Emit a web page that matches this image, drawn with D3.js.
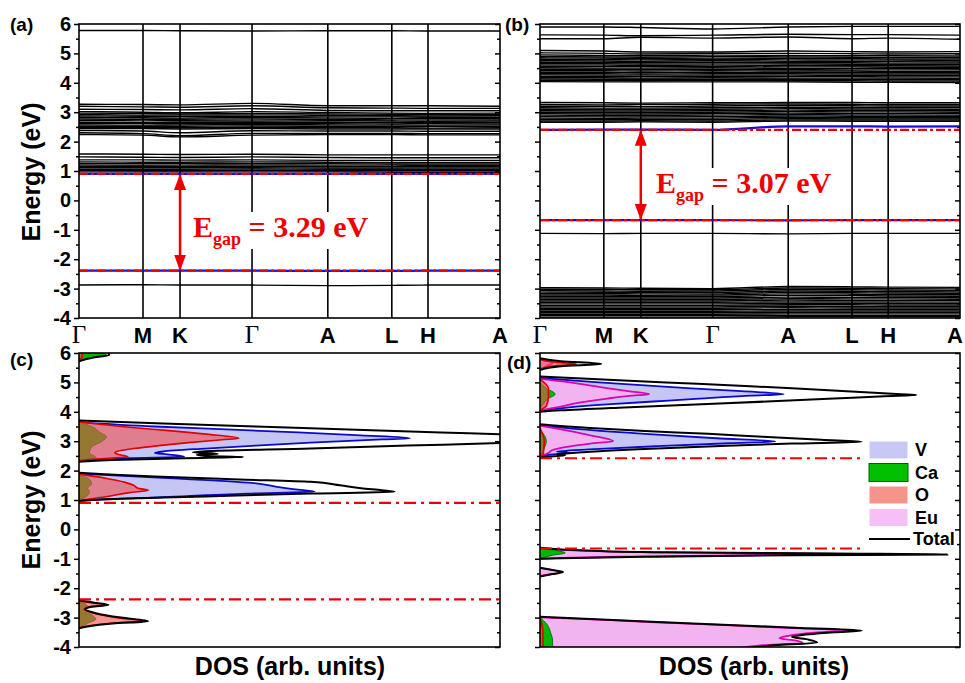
<!DOCTYPE html>
<html>
<head>
<meta charset="utf-8">
<script src="https://cdn.jsdelivr.net/npm/d3@7"></script>
<style>
  body { margin: 0; background: #fff; }
  text { font-family: "Liberation Sans", Arial, sans-serif; font-weight: bold; }
</style>
</head>
<body>
<svg id="fig" width="965" height="683"></svg>
<script>
// ---- data ----
const energyTicks = [6, 5, 4, 3, 2, 1, 0, -1, -2, -3, -4];
const energyMinor = [5.5, 4.5, 3.5, 2.5, 1.5, 0.5, -0.5, -1.5, -2.5, -3.5];
const kLabels = ["Γ", "M", "K", "Γ", "A", "L", "H", "A"];
const kPath = [0, 0.152, 0.240, 0.411, 0.591, 0.743, 0.829, 1.0];

// bands of panel (a), energy (eV) at each high-symmetry point
const bandsA = [
  [5.78, 5.78, 5.77, 5.76, 5.77, 5.77, 5.76, 5.76],
  [3.27, 3.26, 3.25, 3.30, 3.22, 3.22, 3.22, 3.20],
  [3.20, 3.18, 3.17, 3.22, 3.15, 3.14, 3.13, 3.13],
  [3.10, 3.09, 3.08, 3.12, 3.06, 3.05, 3.05, 3.05],
  [3.02, 3.00, 2.98, 3.02, 2.99, 2.97, 2.96, 2.97],
  [2.97, 2.95, 2.94, 2.96, 2.94, 2.93, 2.92, 2.92],
  [2.92, 2.90, 2.90, 2.91, 2.89, 2.88, 2.87, 2.88],
  [2.87, 2.86, 2.85, 2.86, 2.84, 2.84, 2.83, 2.83],
  [2.82, 2.81, 2.80, 2.82, 2.80, 2.79, 2.79, 2.78],
  [2.77, 2.76, 2.76, 2.77, 2.75, 2.74, 2.74, 2.74],
  [2.72, 2.73, 2.71, 2.70, 2.71, 2.70, 2.69, 2.70],
  [2.66, 2.66, 2.66, 2.66, 2.66, 2.65, 2.65, 2.65],
  [2.61, 2.62, 2.61, 2.62, 2.61, 2.60, 2.61, 2.60],
  [2.57, 2.56, 2.57, 2.58, 2.57, 2.56, 2.56, 2.56],
  [2.52, 2.52, 2.52, 2.53, 2.52, 2.51, 2.52, 2.51],
  [2.48, 2.47, 2.47, 2.48, 2.47, 2.47, 2.46, 2.47],
  [2.44, 2.44, 2.43, 2.44, 2.43, 2.43, 2.43, 2.43],
  [2.38, 2.36, 2.30, 2.37, 2.36, 2.36, 2.35, 2.35],
  [2.30, 2.27, 2.20, 2.28, 2.28, 2.28, 2.27, 2.27],
  [2.24, 2.22, 2.16, 2.22, 2.24, 2.24, 2.23, 2.23],
  [1.58, 1.57, 1.56, 1.57, 1.55, 1.55, 1.55, 1.55],
  [1.48, 1.47, 1.46, 1.48, 1.46, 1.45, 1.45, 1.45],
  [1.38, 1.38, 1.37, 1.38, 1.36, 1.36, 1.36, 1.36],
  [1.31, 1.30, 1.30, 1.31, 1.30, 1.29, 1.29, 1.29],
  [1.26, 1.25, 1.25, 1.26, 1.25, 1.24, 1.24, 1.24],
  [1.21, 1.20, 1.20, 1.21, 1.20, 1.20, 1.19, 1.19],
  [1.16, 1.16, 1.15, 1.16, 1.15, 1.15, 1.15, 1.15],
  [1.11, 1.11, 1.11, 1.11, 1.10, 1.10, 1.10, 1.10],
  [1.06, 1.06, 1.06, 1.07, 1.06, 1.06, 1.05, 1.05],
  [1.02, 1.01, 1.01, 1.02, 1.01, 1.01, 1.01, 1.01],
  [0.97, 0.97, 0.97, 0.97, 0.97, 0.96, 0.96, 0.96],
  [-2.88, -2.87, -2.88, -2.88, -2.90, -2.89, -2.88, -2.88]
];
const cbmBandA = [0.90, 0.90, 0.90, 0.90, 0.90, 0.90, 0.90, 0.90];
const vbmBandA = [-2.39, -2.39, -2.39, -2.39, -2.40, -2.40, -2.39, -2.39];

// bands of panel (b)
const bandsB = [
  [5.90, 5.90, 5.88, 5.83, 5.90, 5.92, 5.92, 5.92],
  [5.63, 5.62, 5.60, 5.62, 5.65, 5.64, 5.64, 5.62],
  [5.50, 5.50, 5.55, 5.52, 5.56, 5.50, 5.52, 5.48],
  [5.10, 5.08, 5.05, 5.05, 5.08, 5.06, 5.05, 5.06],
  [5.02, 5.00, 4.98, 5.00, 5.00, 4.99, 4.98, 4.99],
  [4.95, 4.93, 4.92, 4.94, 4.93, 4.92, 4.92, 4.91],
  [4.90, 4.88, 4.87, 4.89, 4.88, 4.87, 4.86, 4.86],
  [4.85, 4.84, 4.82, 4.84, 4.83, 4.82, 4.81, 4.81],
  [4.80, 4.79, 4.78, 4.79, 4.78, 4.77, 4.77, 4.76],
  [4.75, 4.74, 4.73, 4.75, 4.73, 4.72, 4.72, 4.71],
  [4.70, 4.69, 4.69, 4.70, 4.68, 4.68, 4.67, 4.67],
  [4.65, 4.65, 4.64, 4.65, 4.64, 4.63, 4.62, 4.62],
  [4.60, 4.60, 4.59, 4.60, 4.59, 4.58, 4.58, 4.57],
  [4.55, 4.55, 4.55, 4.55, 4.54, 4.54, 4.53, 4.53],
  [4.51, 4.50, 4.50, 4.51, 4.49, 4.49, 4.49, 4.48],
  [4.46, 4.46, 4.45, 4.46, 4.45, 4.44, 4.44, 4.44],
  [4.41, 4.41, 4.40, 4.41, 4.40, 4.40, 4.39, 4.39],
  [4.36, 4.36, 4.35, 4.36, 4.35, 4.35, 4.35, 4.34],
  [4.31, 4.31, 4.30, 4.31, 4.31, 4.30, 4.30, 4.30],
  [4.27, 4.26, 4.26, 4.26, 4.26, 4.25, 4.25, 4.25],
  [4.22, 4.22, 4.21, 4.22, 4.21, 4.21, 4.20, 4.20],
  [4.17, 4.17, 4.16, 4.17, 4.16, 4.16, 4.16, 4.15],
  [4.13, 4.12, 4.12, 4.12, 4.12, 4.11, 4.11, 4.11],
  [4.08, 4.08, 4.07, 4.08, 4.07, 4.07, 4.06, 4.06],
  [4.04, 4.03, 4.03, 4.03, 4.03, 4.02, 4.02, 4.01],
  [3.33, 3.32, 3.31, 3.32, 3.33, 3.33, 3.32, 3.32],
  [3.26, 3.25, 3.26, 3.27, 3.28, 3.27, 3.26, 3.26],
  [3.20, 3.20, 3.19, 3.21, 3.23, 3.22, 3.21, 3.21],
  [3.15, 3.14, 3.14, 3.15, 3.17, 3.16, 3.16, 3.16],
  [3.10, 3.09, 3.09, 3.10, 3.12, 3.11, 3.11, 3.10],
  [3.05, 3.04, 3.04, 3.05, 3.07, 3.06, 3.06, 3.05],
  [3.00, 2.99, 2.99, 3.00, 3.02, 3.01, 3.01, 3.00],
  [2.95, 2.94, 2.94, 2.95, 2.97, 2.96, 2.96, 2.95],
  [2.90, 2.89, 2.89, 2.90, 2.92, 2.91, 2.91, 2.90],
  [2.85, 2.84, 2.84, 2.85, 2.87, 2.86, 2.86, 2.86],
  [2.80, 2.79, 2.80, 2.80, 2.82, 2.81, 2.81, 2.81],
  [2.75, 2.75, 2.75, 2.75, 2.78, 2.77, 2.77, 2.77],
  [2.70, 2.70, 2.71, 2.70, 2.74, 2.73, 2.73, 2.73],
  [2.66, 2.66, 2.67, 2.66, 2.70, 2.69, 2.69, 2.69],
  [-1.12, -1.13, -1.12, -1.12, -1.14, -1.12, -1.12, -1.12],
  [-2.97, -2.98, -2.99, -3.00, -2.93, -2.94, -2.95, -2.96],
  [-3.02, -3.03, -3.04, -3.04, -2.98, -2.99, -3.00, -3.01],
  [-3.07, -3.08, -3.09, -3.08, -3.03, -3.04, -3.05, -3.06],
  [-3.12, -3.13, -3.13, -3.13, -3.08, -3.09, -3.10, -3.11],
  [-3.17, -3.17, -3.18, -3.18, -3.13, -3.14, -3.15, -3.16],
  [-3.22, -3.22, -3.23, -3.22, -3.18, -3.19, -3.20, -3.21],
  [-3.27, -3.27, -3.27, -3.27, -3.23, -3.24, -3.25, -3.26],
  [-3.32, -3.32, -3.32, -3.32, -3.29, -3.30, -3.30, -3.31],
  [-3.37, -3.37, -3.37, -3.37, -3.34, -3.35, -3.35, -3.36],
  [-3.42, -3.42, -3.42, -3.42, -3.39, -3.40, -3.40, -3.41],
  [-3.47, -3.47, -3.47, -3.47, -3.45, -3.45, -3.45, -3.46],
  [-3.52, -3.52, -3.52, -3.52, -3.50, -3.50, -3.50, -3.51],
  [-3.57, -3.57, -3.57, -3.57, -3.55, -3.55, -3.56, -3.56],
  [-3.62, -3.62, -3.62, -3.62, -3.60, -3.61, -3.61, -3.61],
  [-3.67, -3.67, -3.67, -3.67, -3.65, -3.66, -3.66, -3.66],
  [-3.72, -3.72, -3.72, -3.72, -3.71, -3.71, -3.71, -3.71],
  [-3.77, -3.77, -3.77, -3.77, -3.76, -3.76, -3.76, -3.76],
  [-3.82, -3.82, -3.82, -3.82, -3.81, -3.81, -3.81, -3.81],
  [-3.87, -3.87, -3.87, -3.87, -3.86, -3.86, -3.86, -3.86],
  [-3.92, -3.92, -3.92, -3.92, -3.91, -3.91, -3.91, -3.91],
  [-3.97, -3.97, -3.97, -3.97, -3.96, -3.96, -3.96, -3.96]
];
const cbmBandB = [2.40, 2.41, 2.41, 2.40, 2.52, 2.52, 2.51, 2.52];
const vbmBandB = [-0.67, -0.67, -0.67, -0.67, -0.68, -0.67, -0.67, -0.67];

const gapA = [0.90, -2.39];
const gapB = [2.40, -0.67];
const gapTextA = "3.29 eV";
const gapTextB = "3.07 eV";

// DOS, panel (c): blocks of [energy, dos]
const cTotal = [
  [[6.05, 7], [6.0, 7], [5.93, 7.2], [5.85, 3.5], [5.72, 0]],
  [[3.70, 0], [3.6, 20], [3.5, 42], [3.4, 64], [3.3, 86], [3.22, 104], [3.1, 115], [3.0, 108], [2.94, 100], [2.85, 78], [2.75, 55], [2.66, 30], [2.62, 27], [2.57, 33], [2.54, 28], [2.5, 30], [2.46, 39], [2.42, 25], [2.36, 8], [2.3, 0]],
  [[1.93, 0], [1.8, 18], [1.7, 38], [1.62, 55], [1.5, 62], [1.4, 67], [1.33, 72], [1.28, 75], [1.22, 55], [1.12, 30], [1.03, 8], [0.97, 0]],
  [[-2.42, 0], [-2.5, 4], [-2.57, 7], [-2.63, 3], [-2.72, 1.5], [-2.85, 4], [-3.0, 10], [-3.12, 16.4], [-3.2, 8], [-3.3, 2], [-3.36, 0]]
];
const cV = [
  [[3.64, 0], [3.5, 18], [3.4, 35], [3.3, 52], [3.2, 67], [3.1, 78.6], [3.06, 72], [2.95, 55], [2.85, 42], [2.75, 30], [2.65, 20], [2.6, 18], [2.55, 21], [2.5, 24], [2.47, 25], [2.42, 12], [2.35, 2], [2.32, 0]],
  [[1.9, 0], [1.75, 20], [1.58, 41], [1.45, 47], [1.35, 52], [1.29, 56], [1.22, 40], [1.1, 20], [1.0, 3], [0.97, 0]],
  [[-2.45, 0], [-2.6, 1], [-3.1, 1.5], [-3.3, 0]]
];
const cO = [
  [[6.05, 0.8], [5.9, 0.8], [5.76, 0]],
  [[3.66, 0], [3.5, 10], [3.4, 18], [3.3, 26], [3.2, 33], [3.1, 38], [3.05, 34], [2.95, 26], [2.85, 19], [2.75, 13], [2.65, 9], [2.6, 8.5], [2.53, 10], [2.47, 11.6], [2.42, 7], [2.35, 1], [2.32, 0]],
  [[1.88, 0], [1.75, 6], [1.6, 11], [1.5, 13], [1.4, 14], [1.33, 16.5], [1.25, 12], [1.1, 6], [1.0, 1], [0.97, 0]],
  [[-2.43, 0], [-2.5, 3.5], [-2.57, 6.5], [-2.63, 2.5], [-2.72, 1.2], [-2.85, 3.5], [-3.0, 9], [-3.12, 15], [-3.2, 7], [-3.3, 1.5], [-3.35, 0]]
];
const cCa = [
  [[6.05, 6], [6.0, 6], [5.93, 6.5], [5.85, 3], [5.75, 0]],
  [[3.65, 0], [3.5, 3], [3.3, 5], [3.15, 6.5], [3.0, 5.5], [2.8, 3], [2.6, 2.5], [2.45, 4], [2.32, 0]],
  [[1.85, 0], [1.7, 2.5], [1.55, 3], [1.4, 2], [1.3, 2.5], [1.15, 2], [1.0, 0]],
  [[-2.45, 0], [-2.6, 2], [-2.75, 1.5], [-2.9, 3], [-3.05, 4], [-3.2, 2], [-3.35, 0]]
];
const cGapLines = [0.90, -2.38];

// DOS, panel (d)
const dTotal = [
  [[5.82, 0], [5.72, 5], [5.63, 14.6], [5.55, 5], [5.42, 0]],
  [[5.2, 0], [5.1, 15], [5.0, 30], [4.9, 45], [4.8, 60], [4.7, 73], [4.6, 86], [4.57, 89.6], [4.53, 82], [4.45, 70], [4.35, 54], [4.25, 37], [4.15, 20], [4.05, 5], [4.0, 0]],
  [[3.58, 0], [3.45, 12], [3.35, 25], [3.25, 40], [3.15, 53], [3.05, 67], [2.98, 76.6], [2.92, 60], [2.82, 40], [2.72, 22], [2.62, 10], [2.56, 4], [2.52, 6], [2.46, 1], [2.42, 0]],
  [[-0.62, 0], [-0.7, 8], [-0.78, 30], [-0.82, 70], [-0.85, 97], [-0.88, 60], [-0.93, 25], [-0.98, 5], [-1.0, 0]],
  [[-1.3, 0], [-1.38, 3], [-1.45, 5.5], [-1.52, 3], [-1.6, 0]],
  [[-2.97, 0], [-3.05, 12], [-3.15, 28], [-3.25, 45], [-3.35, 62], [-3.44, 76.6], [-3.5, 70], [-3.6, 62], [-3.66, 60], [-3.75, 64], [-3.85, 66], [-3.95, 55], [-4.1, 48]]
];
const dV = [
  [[5.15, 0], [5.0, 14], [4.9, 25], [4.8, 36], [4.7, 48], [4.6, 58], [4.55, 50], [4.45, 38], [4.35, 27], [4.25, 16], [4.15, 7], [4.03, 0]],
  [[3.55, 0], [3.4, 10], [3.25, 25], [3.1, 42], [2.99, 56], [2.93, 45], [2.83, 28], [2.73, 13], [2.65, 4], [2.6, 7], [2.55, 3], [2.48, 0]]
];
const dEu = [
  [[5.78, 0], [5.66, 3], [5.55, 1.5], [5.45, 0]],
  [[5.12, 0], [5.0, 7], [4.85, 14], [4.7, 21], [4.6, 26], [4.55, 22], [4.45, 16], [4.3, 9], [4.15, 4], [4.05, 0]],
  [[3.52, 0], [3.4, 5], [3.2, 12], [3.0, 17.4], [2.92, 12], [2.8, 6], [2.7, 3], [2.6, 2], [2.5, 0]],
  [[-0.62, 0], [-0.7, 7], [-0.78, 27], [-0.82, 60], [-0.85, 85], [-0.88, 50], [-0.93, 20], [-0.98, 4], [-1.0, 0]],
  [[-1.32, 0], [-1.45, 4.5], [-1.58, 0]],
  [[-2.99, 0], [-3.05, 11], [-3.15, 26], [-3.25, 43], [-3.35, 59], [-3.44, 74], [-3.5, 66], [-3.6, 60], [-3.7, 57], [-3.78, 61], [-3.86, 62.5], [-3.95, 52], [-4.1, 46]]
];
const dCa = [
  [[5.0, 0], [4.8, 1.5], [4.6, 3.6], [4.45, 2], [4.3, 1], [4.1, 0]],
  [[3.4, 0], [3.0, 1.5], [2.7, 0.8], [2.5, 0]],
  [[-0.62, 0], [-0.72, 4], [-0.8, 6], [-0.88, 3], [-0.95, 1], [-1.0, 0]],
  [[-3.0, 0], [-3.2, 1.5], [-3.5, 2.5], [-3.8, 3], [-4.1, 3]]
];
const dO = [
  [[5.78, 0], [5.68, 4], [5.63, 8.7], [5.57, 4], [5.45, 0]],
  [[5.1, 0], [4.8, 2], [4.5, 2], [4.2, 1.5], [4.05, 0]],
  [[3.45, 0], [3.0, 1], [2.6, 0.8], [2.45, 0]],
  [[-3.0, 0], [-3.5, 0.7], [-4.1, 0.7]]
];
const dGapLines = [2.42, -0.65];
const dGapLineEnd = 77;

const legendNames = ["V", "Ca", "O", "Eu", "Total"];

// ---- styles ----
const species = {
  V:  {fill: "#c6c6f4", stroke: "#0a0acc", sw: 1.8},
  Eu: {fill: "#f2b4f0", stroke: "#e000b0", sw: 1.8},
  Ca: {fill: "#00b800", stroke: "#007a00", sw: 1},
  O:  {fill: "rgba(240,80,80,0.62)", stroke: "#e00000", sw: 1.6}
};
const RED = "#ee0000";

const svg = d3.select("#fig");
const defs = svg.append("defs");
defs.append("marker").attr("id", "arrow")
  .attr("viewBox", "0 0 16 12").attr("refX", 15).attr("refY", 6)
  .attr("markerWidth", 16).attr("markerHeight", 12)
  .attr("markerUnits", "userSpaceOnUse").attr("orient", "auto-start-reverse")
  .append("path").attr("d", "M0,0 L16,6 L0,12 Z").attr("fill", RED);

const yTop = d3.scaleLinear().domain([-4, 6]).range([318, 24]);
const yBot = d3.scaleLinear().domain([-4, 6]).range([647, 353]);

function clip(id, xr, y) {
  defs.append("clipPath").attr("id", id).append("rect")
    .attr("x", xr[0]).attr("y", y(6)).attr("width", xr[1] - xr[0]).attr("height", y(-4) - y(6));
}

function axes(g, xr, y, labels) {
  const left = g.append("g").attr("transform", `translate(${xr[0]},0)`)
    .call(d3.axisLeft(y).tickValues(energyTicks).tickSize(5).tickPadding(3)
      .tickFormat(labels ? (d => String(d)) : ""));
  left.append("g").call(d3.axisLeft(y).tickValues(energyMinor).tickSize(3).tickFormat(""));
  const right = g.append("g").attr("transform", `translate(${xr[1]},0)`)
    .call(d3.axisLeft(y).tickValues(energyTicks).tickSize(5).tickFormat(""));
  right.append("g").call(d3.axisLeft(y).tickValues(energyMinor).tickSize(3).tickFormat(""));
  g.selectAll(".domain").remove();
  g.selectAll(".tick line").attr("stroke", "#000").attr("stroke-width", 1.5);
  g.selectAll(".tick text").attr("font-size", 20).attr("font-family", "Liberation Sans")
    .attr("font-weight", "bold").attr("fill", "#000");
  g.append("rect").attr("x", xr[0]).attr("y", y(6))
    .attr("width", xr[1] - xr[0]).attr("height", y(-4) - y(6))
    .attr("fill", "none").attr("stroke", "#000").attr("stroke-width", 1.6);
}

function bandPanel(id, xr, bands, cbmBand, vbmBand, gap, gapText, textPos, labels) {
  const x = d3.scaleLinear().domain([0, 1]).range(xr);
  clip("clip-" + id, xr, yTop);
  const g = svg.append("g");
  const inner = g.append("g").attr("clip-path", `url(#clip-${id})`);
  const line = d3.line().x((d, i) => x(kPath[i])).y(d => yTop(d)).curve(d3.curveMonotoneX);

  inner.selectAll(".kline").data(kPath.slice(1, -1)).enter().append("line")
    .attr("x1", d => x(d)).attr("x2", d => x(d))
    .attr("y1", yTop(6)).attr("y2", yTop(-4))
    .attr("stroke", "#000").attr("stroke-width", 1.6);

  inner.selectAll(".band").data(bands).enter().append("path")
    .attr("d", line).attr("fill", "none").attr("stroke", "#000").attr("stroke-width", 1.4);

  [cbmBand, vbmBand].forEach(b => {
    inner.append("path").attr("d", line(b)).attr("fill", "none")
      .attr("stroke", "#1010e0").attr("stroke-width", 2.2);
  });
  gap.forEach(e => {
    inner.append("line").attr("x1", xr[0]).attr("x2", xr[1])
      .attr("y1", yTop(e)).attr("y2", yTop(e))
      .attr("stroke", RED).attr("stroke-width", 2.2).attr("stroke-dasharray", "9,3,3,3");
  });

  // gap arrow and text
  const ax = x(kPath[2]);
  const t = g.append("text").attr("x", textPos[0]).attr("y", textPos[1])
    .attr("fill", RED).style("font-family", "Liberation Serif").style("font-size", "30px");
  t.append("tspan").text("E");
  t.append("tspan").attr("dy", 8).style("font-size", "18px").text("gap");
  t.append("tspan").attr("dy", -8).text(" = " + gapText);
  const bb = t.node().getBBox();
  g.insert("rect", "text").attr("x", bb.x - 2).attr("y", bb.y + 2)
    .attr("width", bb.width + 4).attr("height", bb.height - 2).attr("fill", "#fff");
  g.append("line").attr("x1", ax).attr("x2", ax)
    .attr("y1", yTop(gap[0]) + 1).attr("y2", yTop(gap[1]) - 1)
    .attr("stroke", RED).attr("stroke-width", 2.5)
    .attr("marker-start", "url(#arrow)").attr("marker-end", "url(#arrow)");

  axes(g, xr, yTop, labels);

  g.selectAll(".klabel").data(kLabels).enter().append("text")
    .attr("x", (d, i) => Math.min(x(kPath[i]), 955)).attr("y", 343)
    .attr("text-anchor", "middle")
    .style("font-family", d => d === "Γ" ? "Liberation Serif" : "Liberation Sans")
    .style("font-weight", d => d === "Γ" ? "normal" : "bold")
    .style("font-size", d => d === "Γ" ? "25px" : "22px")
    .text(d => d);
}

function dosPanel(id, xr, series, gapLines, gapEnd) {
  const x = d3.scaleLinear().domain([0, 100]).range(xr);
  clip("clip-" + id, xr, yBot);
  const g = svg.append("g");
  const inner = g.append("g").attr("clip-path", `url(#clip-${id})`);
  const area = d3.area().y(d => yBot(d[0])).x0(x(0)).x1(d => x(d[1])).curve(d3.curveMonotoneY);
  const line = d3.line().y(d => yBot(d[0])).x(d => x(d[1])).curve(d3.curveMonotoneY);

  series.forEach(s => {
    const st = species[s.name];
    inner.selectAll(null).data(s.blocks).enter().append("path")
      .attr("d", area).attr("fill", st.fill);
    inner.selectAll(null).data(s.blocks).enter().append("path")
      .attr("d", line).attr("fill", "none").attr("stroke", st.stroke).attr("stroke-width", st.sw);
  });
  const total = series.total;
  inner.selectAll(null).data(total).enter().append("path")
    .attr("d", line).attr("fill", "none").attr("stroke", "#000").attr("stroke-width", 2);

  gapLines.forEach(e => {
    inner.append("line").attr("x1", x(0)).attr("x2", x(gapEnd))
      .attr("y1", yBot(e)).attr("y2", yBot(e))
      .attr("stroke", RED).attr("stroke-width", 2.2).attr("stroke-dasharray", "12,5,3,5");
  });
  axes(g, xr, yBot, id === "c");
  return g;
}

// ---- panels ----
bandPanel("a", [79, 500], bandsA, cbmBandA, vbmBandA, gapA, gapTextA, [193, 237], true);
bandPanel("b", [540, 960], bandsB, cbmBandB, vbmBandB, gapB, gapTextB, [656, 193], false);

const seriesC = [{name: "V", blocks: cV}, {name: "Ca", blocks: cCa}, {name: "O", blocks: cO}];
seriesC.total = cTotal;
dosPanel("c", [79, 500], seriesC, cGapLines, 100);

const seriesD = [{name: "V", blocks: dV}, {name: "Eu", blocks: dEu}, {name: "Ca", blocks: dCa}, {name: "O", blocks: dO}];
seriesD.total = dTotal;
const gD = dosPanel("d", [540, 960], seriesD, dGapLines, dGapLineEnd);

// legend in (d)
const legendFill = {V: "#c8c8f6", Ca: "#00c000", O: "#f6938a", Eu: "#f6c0f6"};
const leg = gD.append("g").attr("transform", "translate(869,441)");
legendNames.forEach((n, i) => {
  const yy = i * 22.5;
  if (n === "Total") {
    leg.append("line").attr("x1", 0).attr("x2", 41).attr("y1", yy + 8).attr("y2", yy + 8)
      .attr("stroke", "#000").attr("stroke-width", 2);
    leg.append("text").attr("x", 44).attr("y", yy + 14).attr("font-size", 18).text(n);
  } else {
    leg.append("rect").attr("x", 0).attr("y", yy).attr("width", 39).attr("height", 18)
      .attr("fill", legendFill[n]).attr("stroke", n === "Ca" ? "#006000" : "#fff").attr("stroke-width", 1);
    leg.append("text").attr("x", 46).attr("y", yy + 15).attr("font-size", 18).text(n);
  }
});

// labels
[["(a)", 10, 31], ["(b)", 505, 31], ["(c)", 10, 366], ["(d)", 507, 369]].forEach(p => {
  svg.append("text").attr("x", p[1]).attr("y", p[2]).attr("font-size", 19).text(p[0]);
});
[172, 500].forEach(cy => {
  svg.append("text").attr("transform", `translate(40,${cy}) rotate(-90)`)
    .attr("text-anchor", "middle").attr("font-size", 25).text("Energy (eV)");
});
[290, 754].forEach(cx => {
  svg.append("text").attr("x", cx).attr("y", 675).attr("text-anchor", "middle")
    .attr("font-size", 25).text("DOS (arb. units)");
});
</script>
</body>
</html>
